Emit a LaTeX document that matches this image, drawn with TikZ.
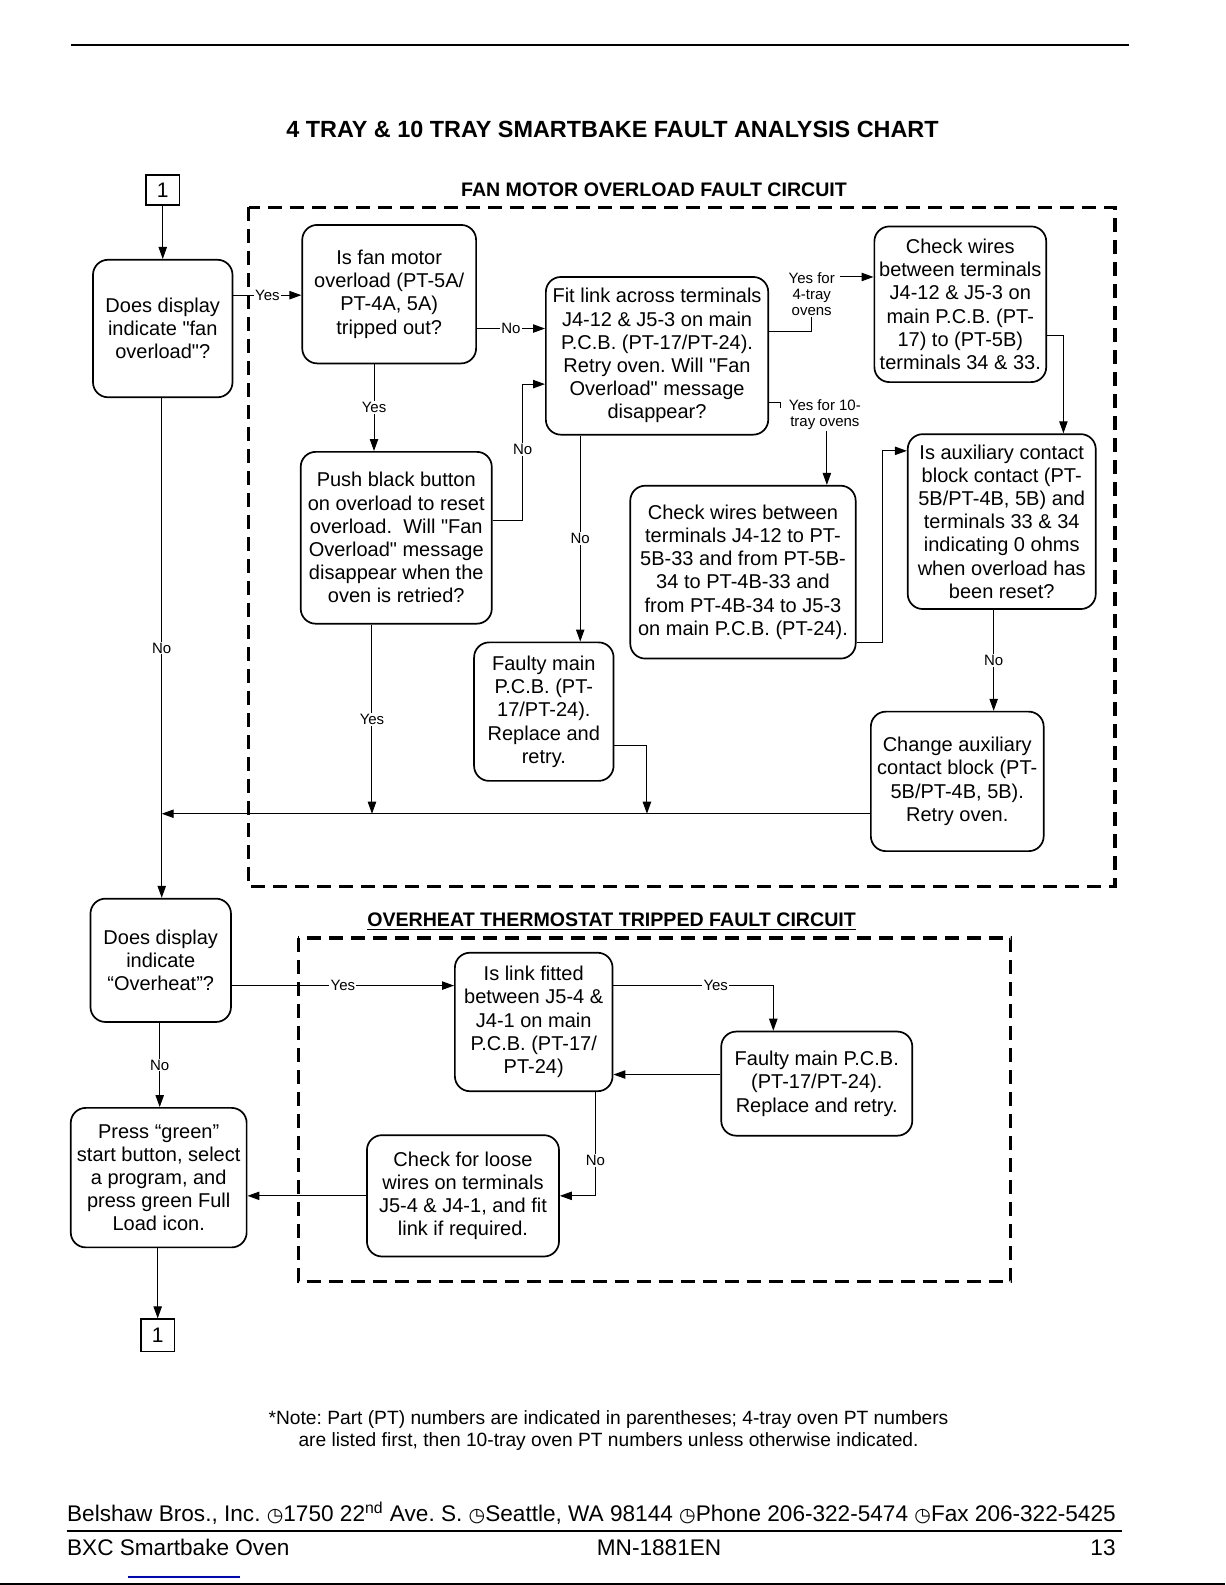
\documentclass[tikz,border=0pt]{standalone}
\usepackage{fontspec}
\setmainfont{Liberation Sans}
\newfontfamily\dejavu{DejaVu Sans}
\usetikzlibrary{arrows.meta,calc}
\newcommand\sq{\textquotedbl}
\frenchspacing
\begin{document}
\begin{tikzpicture}[x=0.5054pt,y=-0.5054pt,
  box/.style={draw, line width=0.85pt, rounded corners=7.5pt, align=center,
    font=\fontsize{10}{11.6}\selectfont, inner sep=1pt},
  bx/.style 2 args={minimum width=#1*0.5054pt, minimum height=#2*0.5054pt},
  onebox/.style={draw, line width=0.8pt, inner sep=0pt, font=\fontsize{10.5}{12}\selectfont},
  con/.style={line width=0.5pt},
  arr/.style={line width=0.5pt, -{Triangle[length=6pt,width=4.2pt]}},
  lbl/.style={fill=white, inner sep=0.6pt, font=\fontsize{7.5}{8}\selectfont, align=center},
  frame/.style={dash pattern=on 7pt off 4pt, line width=1.6pt},
  ttl/.style={font=\bfseries\fontsize{9.8}{12}\selectfont},
  foot/.style={font=\fontsize{11.3}{13}\selectfont, inner sep=0pt}
]
\useasboundingbox (0,0) rectangle (1212,1568);

% header
\draw[line width=1pt] (70,45) -- (1117,45);
\node[font=\bfseries\fontsize{11.7}{14}\selectfont] (title) at (606,128) {4 TRAY \& 10 TRAY SMARTBAKE FAULT ANALYSIS CHART};

% frames and titles
\node[ttl] (t1) at (647,188) {FAN MOTOR OVERLOAD FAULT CIRCUIT};
\draw[frame] (246,205) rectangle (1103,877);
\node[ttl] (t2) at (605,912) {\underline{OVERHEAT THERMOSTAT TRIPPED FAULT CIRCUIT}};
\draw[frame] (295,928) rectangle (1000,1268);

% nodes
\node[onebox, bx={33}{30}] (one1) at (161,188) {1};
\node[box, bx={138}{136}] (A) at (161,325) {Does display\\indicate \sq fan\\overload\sq?};
\node[box, bx={172}{137}] (B) at (385,291) {Is fan motor\\overload (PT-5A/\\PT-4A, 5A)\\tripped out?};
\node[box, bx={220}{156}] (C) at (650,352) {Fit link across terminals\\J4-12 \& J5-3 on main\\P.C.B. (PT-17/PT-24).\\Retry oven. Will \sq Fan\\Overload\sq{} message\\disappear?};
\node[box, bx={170}{154}] (D) at (950,301) {Check wires\\between terminals\\J4-12 \& J5-3 on\\main P.C.B. (PT-\\17) to (PT-5B)\\terminals 34 \& 33.};
\node[box, bx={189}{170}] (E) at (392,532) {Push black button\\on overload to reset\\overload.\ \ Will \sq Fan\\Overload\sq{} message\\disappear when the\\oven is retried?};
\node[box, bx={138}{137}] (F) at (538,704) {Faulty main\\P.C.B. (PT-\\17/PT-24).\\Replace and\\retry.};
\node[box, bx={223}{171}] (G) at (735,566) {Check wires between\\terminals J4-12 to PT-\\5B-33 and from PT-5B-\\34 to PT-4B-33 and\\from PT-4B-34 to J5-3\\on main P.C.B. (PT-24).};
\node[box, bx={186}{173}] (H) at (991,516) {Is auxiliary contact\\block contact (PT-\\5B/PT-4B, 5B) and\\terminals 33 \& 34\\indicating 0 ohms\\when overload has\\been reset?};
\node[box, bx={171}{138}] (I) at (947,773) {Change auxiliary\\contact block (PT-\\5B/PT-4B, 5B).\\Retry oven.};
\node[box, bx={139}{122}] (J) at (159,950) {Does display\\indicate\\“Overheat”?};
\node[box, bx={156}{137}] (K) at (528,1011) {Is link fitted\\between J5-4 \&\\J4-1 on main\\P.C.B. (PT-17/\\PT-24)};
\node[box, bx={189}{103}] (L) at (808,1072) {Faulty main P.C.B.\\(PT-17/PT-24).\\Replace and retry.};
\node[box, bx={190}{120}] (M) at (458,1183) {Check for loose\\wires on terminals\\J5-4 \& J4-1, and fit\\link if required.};
\node[box, bx={174}{138}] (N) at (157,1165) {Press “green”\\start button, select\\a program, and\\press green Full\\Load icon.};
\node[onebox, bx={33}{32}] (one2) at (156,1321) {1};

% labels that sit at line ends
\node[lbl] (y4) at (803,291) {Yes for\\4-tray\\ovens};
\coordinate (y4e) at (831,274);
\node[lbl] (y10) at (816,410) {Yes for 10-\\tray ovens};
\coordinate (ret) at (160,805);

% connectors: fan motor circuit
\draw[arr] (one1.south -| 161,0) -- (A.north -| 161,0);
\draw[arr] (A.east |- 0,292) -- node[lbl, pos=0.5]{Yes} (B.west |- 0,292);
\draw[arr] (B.east |- 0,325) -- node[lbl]{No} (C.west |- 0,325);
\draw[arr] (B.south -| 370,0) -- node[lbl]{Yes} (E.north -| 370,0);
\draw[arr] (E.east |- 0,515) -| node[lbl, pos=0.76]{No} (517,380) -- (C.west |- 0,380);
\draw[arr] (C.south -| 574,0) -- node[lbl]{No} (F.north -| 574,0);
\draw[con] (C.east |- 0,328) -| (y4.south);
\draw[arr] (y4e) -- (D.west |- y4e);
\draw[con] (C.east |- 0,398) -| (772,404);
\draw[arr] (y10.south -| 818,0) -- (G.north -| 818,0);
\draw[arr] (D.east |- 0,332) -| (H.north -| 1052,0);
\draw[arr] (G.east |- 0,636) -| (873,446) -- (H.west |- 0,446);
\draw[arr] (H.south -| 983,0) -- node[lbl]{No} (I.north -| 983,0);
\draw[arr] (I.west |- 0,805) -- (ret);
\draw[arr] (E.south -| 368,0) -- node[lbl]{Yes} (368,805);
\draw[arr] (F.east |- 0,737) -| (640,805);
\draw[arr] (A.south -| 160,0) -- node[lbl]{No} (J.north -| 160,0);

% connectors: overheat circuit
\draw[arr] (J.east |- 0,975) -- node[lbl]{Yes} (K.west |- 0,975);
\draw[arr] (K.east |- 0,975) -| node[lbl, pos=0.32]{Yes} (L.north -| 765,0);
\draw[arr] (L.west |- 0,1063) -- (K.east |- 0,1063);
\draw[arr] (K.south -| 589,0) |- node[lbl, pos=0.33]{No} (M.east |- 0,1183);
\draw[arr] (M.west |- 0,1183) -- (N.east |- 0,1183);
\draw[arr] (J.south -| 158,0) -- node[lbl]{No} (N.north -| 158,0);
\draw[arr] (N.south -| 156,0) -- (one2.north -| 156,0);

% note
\node[font=\fontsize{9.6}{11.2}\selectfont, align=center] (note) at (602,1415) {*Note: Part (PT) numbers are indicated in parentheses; 4-tray oven PT numbers\\are listed first, then 10-tray oven PT numbers unless otherwise indicated.};

% footer
\node[foot, anchor=west] (addr) at (66,1497) {Belshaw Bros., Inc. {\dejavu\fontsize{9.5}{12}\selectfont ◷}1750 22\textsuperscript{nd} Ave. S. {\dejavu\fontsize{9.5}{12}\selectfont ◷}Seattle, WA 98144 {\dejavu\fontsize{9.5}{12}\selectfont ◷}Phone 206-322-5474 {\dejavu\fontsize{9.5}{12}\selectfont ◷}Fax 206-322-5425};
\draw[line width=1pt] (66,1515) -- (1110,1515);
\node[foot, anchor=west] (bxc) at (66,1531) {BXC Smartbake Oven};
\node[foot] (mn) at (652,1531) {MN-1881EN};
\node[foot, anchor=east] (pg) at (1104,1531) {13};
\draw[blue!85!black, line width=0.7pt] (127,1560) -- (237,1560);
\draw[line width=1pt] (0,1567) -- (1212,1567);
\end{tikzpicture}
\end{document}
